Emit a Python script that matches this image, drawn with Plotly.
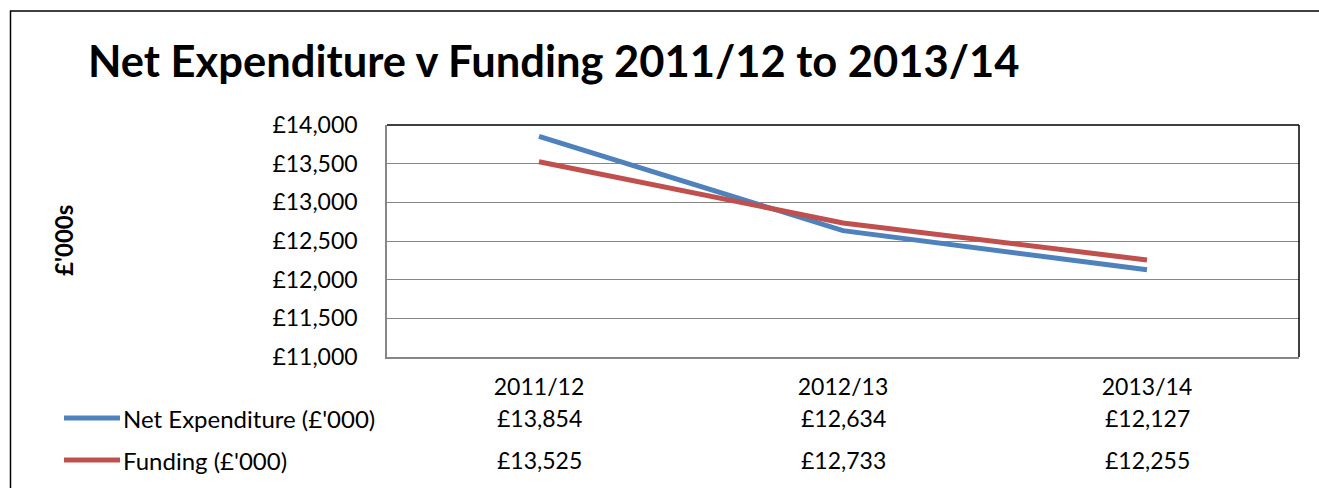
import plotly.graph_objects as go

categories = ["2011/12", "2012/13", "2013/14"]
net_expenditure = [13854, 12634, 12127]
funding = [13525, 12733, 12255]
series_names = ["Net Expenditure (£'000)", "Funding (£'000)"]
series_colors = ["#4F81BD", "#C0504D"]
y_ticks = [11000, 11500, 12000, 12500, 13000, 13500, 14000]
title_text = "Net Expenditure v Funding 2011/12 to 2013/14"
y_title = "£'000s"

W, H = 1319, 488
FONT = "Lato, 'Open Sans', sans-serif"

def px(x):
    return x / W

def py(y):
    return 1 - y / H

fig = go.Figure()
for name, vals, col in zip(series_names, [net_expenditure, funding], series_colors):
    fig.add_trace(go.Scatter(x=categories, y=vals, mode="lines", name=name,
                             line=dict(color=col, width=5), showlegend=False,
                             hoverinfo="skip"))

fig.update_layout(
    width=W, height=H,
    margin=dict(l=0, r=0, t=0, b=0),
    paper_bgcolor="white", plot_bgcolor="white",
    font=dict(family=FONT, color="black"),
    xaxis=dict(domain=[px(387), px(1299)], type="category", range=[-0.5, 2.5],
               showgrid=False, showline=True, linecolor="#868686", linewidth=1.5,
               ticks="", tickfont=dict(size=23, family=FONT), ticklabelstandoff=9,
               zeroline=False, automargin=False, fixedrange=True),
    yaxis=dict(domain=[py(357), py(125)], range=[11000, 14000], tickvals=y_ticks,
               ticktext=["£{:,}".format(v) for v in y_ticks],
               showgrid=True, gridcolor="#868686",
               gridwidth=1.3, showline=True, linecolor="#868686", linewidth=1.5,
               ticks="", tickfont=dict(size=23, family=FONT), ticklabelstandoff=23,
               zeroline=False, automargin=False, fixedrange=True),
)

shapes = []
# outer chart frame
shapes.append(dict(type="rect", xref="paper", yref="paper", x0=px(10.5), x1=px(1330),
                   y0=py(500), y1=py(11), line=dict(color="black", width=1.5)))
# plot area border (top/right black)
shapes.append(dict(type="line", xref="paper", yref="paper", x0=px(387), x1=px(1299),
                   y0=py(125), y1=py(125), line=dict(color="black", width=1.5)))
shapes.append(dict(type="line", xref="paper", yref="paper", x0=px(1299), x1=px(1299),
                   y0=py(125), y1=py(357), line=dict(color="black", width=1.5)))

annotations = [
    dict(text="<b>" + title_text + "</b>", xref="paper", yref="paper", x=px(86), y=py(60),
         xanchor="left", yanchor="middle", showarrow=False,
         font=dict(size=43.5, family=FONT, color="black")),
    dict(text="<b>" + y_title + "</b>", xref="paper", yref="paper", x=px(63), y=py(241),
         xanchor="center", yanchor="middle", textangle=-90, showarrow=False,
         font=dict(size=24, family=FONT, color="black")),
]

row_y = [418, 460]
for i, (name, vals, col) in enumerate(zip(series_names, [net_expenditure, funding], series_colors)):
    yy = row_y[i]
    shapes.append(dict(type="line", xref="paper", yref="paper", x0=px(64), x1=px(120),
                       y0=py(yy), y1=py(yy), line=dict(color=col, width=5)))
    annotations.append(dict(text=name, xref="paper", yref="paper", x=px(121), y=py(yy),
                            xanchor="left", yanchor="middle", showarrow=False,
                            font=dict(size=24, family=FONT, color="black")))
    for c, v in zip(categories, vals):
        annotations.append(dict(text="£{:,}".format(v), xref="x", yref="paper", x=c, y=py(yy),
                                xanchor="center", yanchor="middle", showarrow=False,
                                font=dict(size=23, family=FONT, color="black")))

fig.update_layout(shapes=shapes, annotations=annotations)
fig.write_html("out.html", config={"displayModeBar": False},
               post_script="document.body.style.margin='0';")
